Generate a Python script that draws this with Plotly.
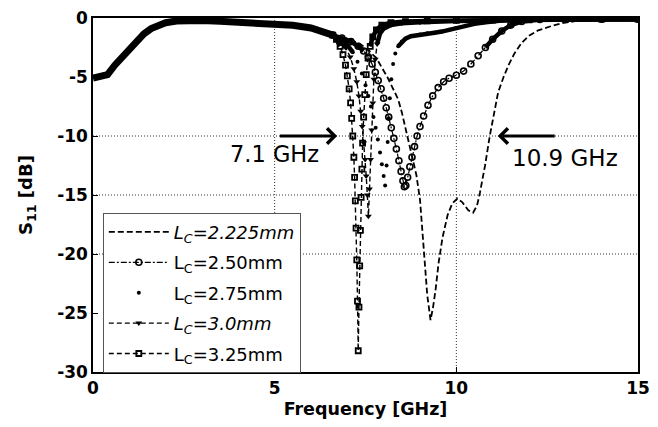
import plotly.graph_objects as go

# ---------------- data ----------------
# shared response of all five curves below ~6.6 GHz
f_common = [0.0, 0.2, 0.4, 0.6, 0.8, 1.0, 1.2, 1.4, 1.6, 1.8, 2.0, 2.3, 2.6, 3.0, 3.5, 4.0, 4.5, 5.0, 5.5, 6.0, 6.3, 6.6]
s_common = [-5.1, -5.0, -4.8, -4.0, -3.3, -2.6, -1.9, -1.35, -0.9, -0.6, -0.4, -0.25, -0.2, -0.22, -0.28, -0.33, -0.4, -0.5, -0.62, -0.85, -1.1, -1.45]

# Lc = 2.225 mm
f2225 = [6.60, 6.90, 7.15, 7.40, 7.60, 7.80, 7.95, 8.10, 8.26, 8.40, 8.50, 8.60, 8.70, 8.80, 8.90, 9.00, 9.07, 9.13, 9.20, 9.29,
         9.36, 9.43, 9.51, 9.62, 9.76, 9.89, 10.03, 10.16, 10.33, 10.46, 10.57, 10.65, 10.79, 10.92, 11.05, 11.15, 11.30, 11.45,
         11.60, 11.80, 12.00, 12.25, 12.60, 12.90, 13.30, 13.80, 14.50, 15.00]
s2225 = [-1.45, -1.65, -1.9, -2.3, -2.8, -3.4, -4.2, -5.0, -6.0, -6.9, -8.0, -9.3, -10.6, -11.8, -13.3, -15.4, -18.0, -21.0, -23.5, -25.6,
         -24.5, -23.0, -20.8, -18.6, -16.7, -15.7, -15.3, -15.6, -16.3, -16.5, -15.9, -14.8, -12.5, -10.0, -8.0, -6.3, -5.0, -3.9,
         -3.0, -2.1, -1.5, -1.05, -0.7, -0.45, -0.25, -0.12, -0.1, -0.1]

# Lc = 2.50 mm
f250 = [6.60, 6.85, 7.10, 7.30, 7.45, 7.58, 7.68, 7.77, 7.85, 7.93, 8.00, 8.07, 8.14, 8.21, 8.28, 8.35, 8.42, 8.48, 8.53, 8.57,
        8.61, 8.66, 8.72, 8.78, 8.85, 8.92, 9.00, 9.10, 9.22, 9.35, 9.50, 9.65, 9.80, 10.0, 10.2, 10.4, 10.6, 10.8, 11.0, 11.25,
        11.5, 11.8, 12.3, 13.0, 14.0, 15.0]
s250 = [-1.45, -1.7, -2.0, -2.4, -2.8, -3.3, -3.9, -4.6, -5.3, -6.0, -6.8, -7.6, -8.4, -9.3, -10.2, -11.1, -12.1, -13.0, -13.8, -14.3,
        -14.2, -13.5, -12.6, -11.8, -10.9, -10.0, -9.2, -8.3, -7.4, -6.6, -5.9, -5.4, -5.1, -4.85, -4.5, -3.9, -3.2, -2.5, -1.8, -1.1,
        -0.6, -0.3, -0.12, -0.1, -0.1, -0.1]

# Lc = 2.75 mm
f275 = [6.60, 6.80, 7.00, 7.15, 7.28, 7.40, 7.50, 7.58, 7.65, 7.72, 7.78, 7.84, 7.90, 7.95, 8.00, 8.04, 8.08, 8.11, 8.14, 8.17,
        8.21, 8.26, 8.32, 8.40, 8.50, 8.60, 8.75, 9.0, 9.2, 9.4, 9.6, 9.8, 10.0, 10.25, 10.5, 10.75, 11.0, 11.3, 11.6, 12.0,
        12.5, 13.0, 13.5, 14.0, 14.5, 15.0]
s275 = [-1.45, -1.8, -2.3, -2.9, -3.7, -4.7, -5.7, -6.6, -7.5, -8.4, -9.3, -10.3, -11.4, -12.4, -13.4, -14.2, -12.5, -10.5, -8.5, -6.8,
        -5.2, -3.9, -3.0, -2.4, -2.0, -1.75, -1.55, -1.4, -1.3, -1.25, -1.15, -1.0, -0.85, -0.65, -0.5, -0.38, -0.28, -0.2, -0.15, -0.12,
        -0.1, -0.1, -0.1, -0.1, -0.1, -0.1]

# Lc = 3.0 mm
f30 = [6.60, 6.80, 6.95, 7.08, 7.18, 7.26, 7.32, 7.37, 7.41, 7.45, 7.49, 7.52, 7.55, 7.58, 7.61, 7.64, 7.67, 7.70, 7.73, 7.77,
       7.82, 7.90, 8.0, 8.2, 8.5, 9.0, 10.0, 11.0, 12.0, 13.0, 14.0, 15.0]
s30 = [-1.45, -1.9, -2.5, -3.3, -4.3, -5.4, -6.6, -7.9, -9.2, -10.6, -12.0, -13.4, -15.0, -16.8, -14.5, -12.0, -9.5, -7.2, -5.2, -3.5,
       -2.2, -1.3, -0.9, -0.6, -0.45, -0.35, -0.25, -0.2, -0.15, -0.12, -0.1, -0.1]

# Lc = 3.25 mm
f325 = [6.60, 6.70, 6.80, 6.88, 6.95, 7.00, 7.05, 7.09, 7.12, 7.15, 7.18, 7.20, 7.22, 7.24, 7.26, 7.28, 7.30, 7.32, 7.34, 7.36,
        7.38, 7.40, 7.42, 7.45, 7.48, 7.52, 7.57, 7.63, 7.70, 7.80, 7.95, 8.2, 8.6, 9.2, 10.0, 11.0, 12.0, 13.0, 14.0, 15.0]
s325 = [-1.45, -1.8, -2.4, -3.1, -4.0, -4.9, -6.0, -7.2, -8.5, -10.0, -11.8, -13.5, -15.5, -17.8, -20.5, -24.0, -28.2, -24.5, -21.0, -18.0,
        -15.2, -12.8, -10.6, -8.4, -6.5, -4.8, -3.4, -2.4, -1.6, -1.0, -0.6, -0.4, -0.3, -0.25, -0.2, -0.18, -0.15, -0.12, -0.1, -0.1]

names = ["<i>L<sub>C</sub>=2.225mm</i>", "L<sub>C</sub>=2.50mm", "L<sub>C</sub>=2.75mm",
         "<i>L<sub>C</sub>=3.0mm</i>", "L<sub>C</sub>=3.25mm"]

x_ticks = [0, 5, 10, 15]
x_ticklabels = ["0", "5", "10", "15"]
y_ticks = [0, -5, -10, -15, -20, -25, -30]
y_ticklabels = ["0", "-5", "-10", "-15", "-20", "-25", "-30"]
grid_x = [5, 10]
grid_y = [-10, -15, -20]

# ---------------- figure ----------------
BLACK = "black"
fig = go.Figure()

# thick shared band (dense overlapping markers of all curves)
fig.add_trace(go.Scatter(x=f_common, y=s_common, mode="lines",
                         line=dict(color=BLACK, width=7), showlegend=False, hoverinfo="skip"))


def band(f, s, thr=-3.0):
    """thick part of a curve where its dense markers merge into a solid band"""
    yb = [v if v > thr else None for v in s]
    fig.add_trace(go.Scatter(x=f, y=yb, mode="lines", connectgaps=False,
                             line=dict(color=BLACK, width=4.5), showlegend=False, hoverinfo="skip"))


band(f250, s250)
band(f275, s275)
band(f30, s30)
band(f325, s325)

fig.add_trace(go.Scatter(x=f2225, y=s2225, mode="lines", name=names[0], legendgroup="a",
                         line=dict(color=BLACK, width=1.8, dash="6px,3px")))
fig.add_trace(go.Scatter(x=f250, y=s250, mode="lines+markers", name=names[1], legendgroup="b",
                         line=dict(color=BLACK, width=1.2, dash="6px,2px,2px,2px"),
                         marker=dict(symbol="circle-open", size=6, color=BLACK, line=dict(width=1.6, color=BLACK))))
fig.add_trace(go.Scatter(x=f275, y=s275, mode="markers", name=names[2], legendgroup="c",
                         marker=dict(symbol="circle", size=4, color=BLACK)))
fig.add_trace(go.Scatter(x=f30, y=s30, mode="lines+markers", name=names[3], legendgroup="d",
                         line=dict(color=BLACK, width=1.4, dash="5px,3px"),
                         marker=dict(symbol="triangle-down", size=6, color=BLACK)))
fig.add_trace(go.Scatter(x=f325, y=s325, mode="lines+markers", name=names[4], legendgroup="e",
                         line=dict(color=BLACK, width=1.4, dash="5px,3px"),
                         marker=dict(symbol="square-open", size=5, color=BLACK, line=dict(width=1.8, color=BLACK))))

# dotted grid lines (only the ones visible in the figure)
for gx in grid_x:
    fig.add_shape(type="line", xref="x", yref="paper", x0=gx, x1=gx, y0=0, y1=1,
                  line=dict(color="#333", width=1, dash="1px,2px"), layer="below")
for gy in grid_y:
    fig.add_shape(type="line", xref="paper", yref="y", x0=0, x1=1, y0=gy, y1=gy,
                  line=dict(color="#333", width=1, dash="1px,2px"), layer="below")

# arrows and annotations
fig.add_annotation(x=6.72, y=-10, ax=5.1, ay=-10, xref="x", yref="y", axref="x", ayref="y",
                   text="", showarrow=True, arrowhead=4, arrowsize=1, arrowwidth=3, arrowcolor=BLACK)
fig.add_annotation(x=11.14, y=-10, ax=12.75, ay=-10, xref="x", yref="y", axref="x", ayref="y",
                   text="", showarrow=True, arrowhead=4, arrowsize=1, arrowwidth=3, arrowcolor=BLACK)
fig.add_annotation(x=5.0, y=-11.5, xref="x", yref="y", text="7.1 GHz", showarrow=False,
                   font=dict(family="DejaVu Sans", size=22.5, color=BLACK))
fig.add_annotation(x=13.0, y=-11.9, xref="x", yref="y", text="10.9 GHz", showarrow=False,
                   font=dict(family="DejaVu Sans", size=23, color=BLACK))

tick_font = dict(family="DejaVu Sans", size=17, color=BLACK, weight="bold")
fig.update_layout(
    width=658, height=427,
    margin=dict(l=93, r=13, t=8, b=55),
    paper_bgcolor="white", plot_bgcolor="white",
    font=dict(family="DejaVu Sans", color=BLACK),
    xaxis=dict(range=[0, 15], tickvals=x_ticks, ticktext=x_ticklabels, showgrid=False, zeroline=False,
               showline=True, linecolor=BLACK, linewidth=1.5, mirror=True,
               ticks="inside", ticklen=5, tickcolor=BLACK, tickfont=tick_font, ticklabeloverflow="allow",
               title=dict(text="<b>Frequency [GHz]</b>", font=dict(family="DejaVu Sans", size=17.5, color=BLACK),
                          standoff=6)),
    yaxis=dict(range=[-30, 0], tickvals=y_ticks, ticktext=y_ticklabels, showgrid=False, zeroline=False,
               showline=True, linecolor=BLACK, linewidth=1.5, mirror=True,
               ticks="inside", ticklen=5, tickcolor=BLACK, tickfont=tick_font, ticklabeloverflow="allow",
               title=dict(text="<b>S<sub>11</sub> [dB]</b>", font=dict(family="DejaVu Sans", size=18, color=BLACK),
                          standoff=20)),
    legend=dict(x=0.018, y=0.45, xanchor="left", yanchor="top", bgcolor="white",
                bordercolor="#555", borderwidth=1, font=dict(family="DejaVu Sans", size=18, color=BLACK),
                itemwidth=60, tracegroupgap=4, traceorder="grouped"),
    showlegend=True,
)

fig.write_html("out.html")
